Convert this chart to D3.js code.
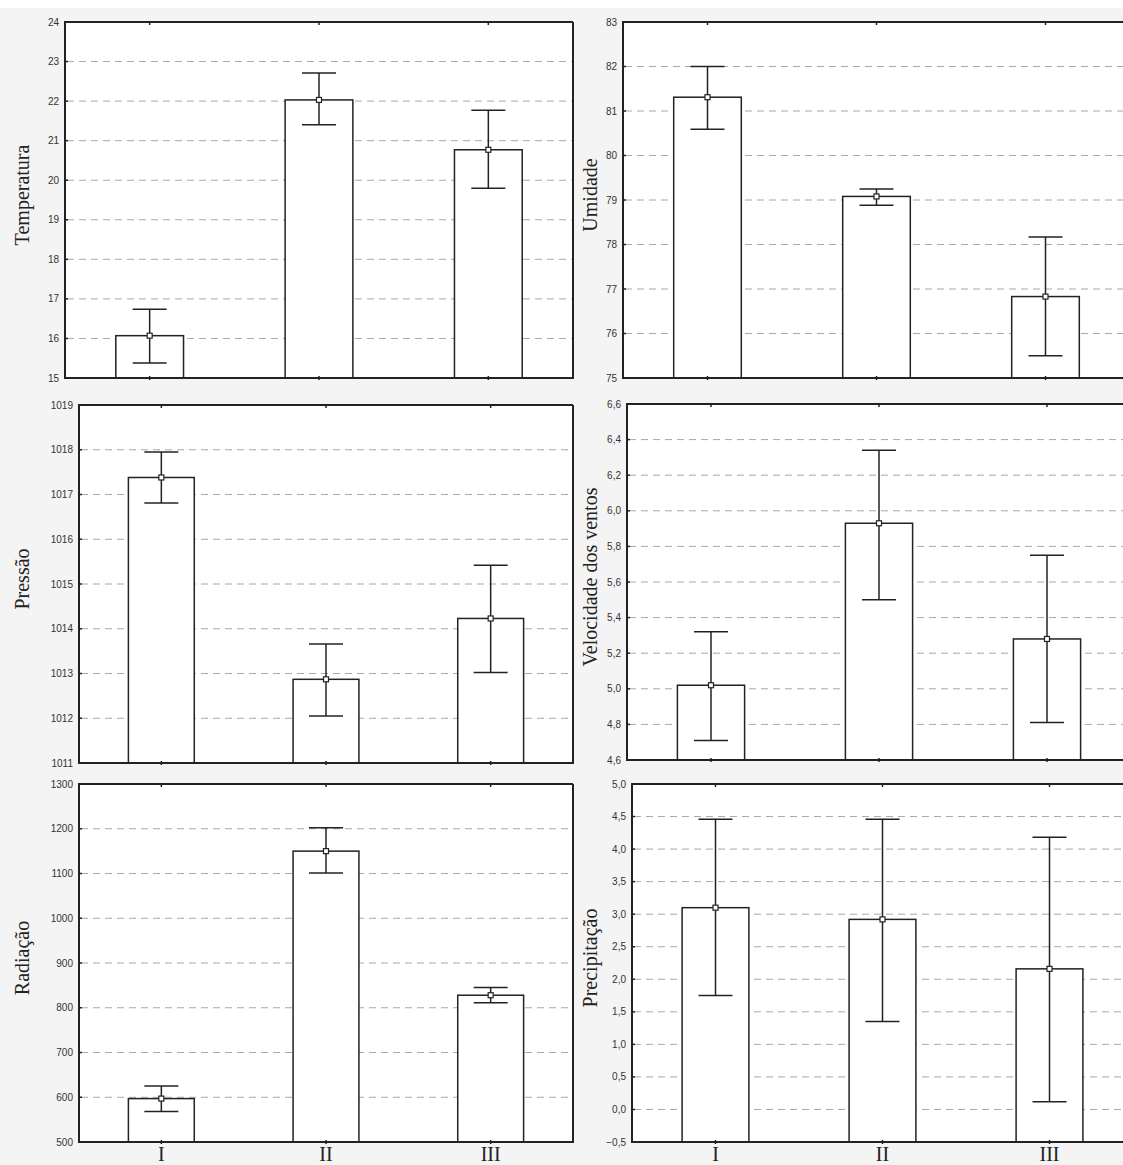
<!DOCTYPE html>
<html>
    <head>
        <meta charset="utf-8">
        <style>
            html, body {
                margin: 0px;
                padding: 0px;
                background-color: #f4f4f4;
            }

            svg {
                display: block;
            }

            .plot {
                fill: #fff;
            }

            .frame {
                fill: none;
                stroke: #222;
                stroke-width: 2px;
            }

            .grid line {
                stroke: #a8a8a8;
                stroke-dasharray: 7, 5;
            }

            .bar {
                fill: #fff;
                stroke: #222;
                stroke-width: 1.5px;
            }

            .err {
                stroke: #222;
                stroke-width: 1.5px;
            }

            .mean {
                fill: #fff;
                stroke: #222;
                stroke-width: 1.2px;
            }

            .tick-label {
                font-family: "Liberation Sans", Arial, sans-serif;
                font-size: 10px;
                fill: #333;
            }

            .ytitle {
                font-family: "Liberation Serif", "Times New Roman", serif;
                font-size: 20px;
                fill: #222;
            }

            .xlabel {
                font-family: "Liberation Serif", "Times New Roman", serif;
                font-size: 20px;
                fill: #222;
            }
        </style>
        <script src="https://cdnjs.cloudflare.com/ajax/libs/d3/7.8.5/d3.min.js"></script>
    </head>
    <body>
        <div id="main"></div>

        <script>
            var groups = ["I", "II", "III"];

            var tempMean = [16.07, 22.03, 20.77];
            var tempLow  = [15.38, 21.40, 19.80];
            var tempHigh = [16.74, 22.71, 21.77];
            var tempTicks = [15, 16, 17, 18, 19, 20, 21, 22, 23, 24];

            var umidMean = [81.31, 79.08, 76.83];
            var umidLow  = [80.59, 78.88, 75.50];
            var umidHigh = [82.00, 79.25, 78.17];
            var umidTicks = [75, 76, 77, 78, 79, 80, 81, 82, 83];

            var presMean = [1017.38, 1012.87, 1014.23];
            var presLow  = [1016.81, 1012.05, 1013.02];
            var presHigh = [1017.95, 1013.66, 1015.42];
            var presTicks = [1011, 1012, 1013, 1014, 1015, 1016, 1017, 1018, 1019];

            var ventMean = [5.02, 5.93, 5.28];
            var ventLow  = [4.71, 5.50, 4.81];
            var ventHigh = [5.32, 6.34, 5.75];
            var ventTicks = [4.6, 4.8, 5.0, 5.2, 5.4, 5.6, 5.8, 6.0, 6.2, 6.4, 6.6];

            var radMean = [597, 1150, 828];
            var radLow  = [568, 1101, 811];
            var radHigh = [625, 1202, 845];
            var radTicks = [500, 600, 700, 800, 900, 1000, 1100, 1200, 1300];

            var precMean = [3.10, 2.92, 2.16];
            var precLow  = [1.75, 1.35, 0.12];
            var precHigh = [4.46, 4.46, 4.18];
            var precTicks = [-0.5, 0, 0.5, 1.0, 1.5, 2.0, 2.5, 3.0, 3.5, 4.0, 4.5, 5.0];

            var width = 1123;
            var height = 1165;
            var capHalf = 17;

            var panels = [
                {title: "Temperatura", mean: tempMean, low: tempLow, high: tempHigh, ticks: tempTicks, fmt: "d",
                 left: 65, right: 573, top: 22, bottom: 378, titleX: 22, xlabels: false},
                {title: "Umidade", mean: umidMean, low: umidLow, high: umidHigh, ticks: umidTicks, fmt: "d",
                 left: 623, right: 1130, top: 22, bottom: 378, titleX: 590, xlabels: false},
                {title: "Pressão", mean: presMean, low: presLow, high: presHigh, ticks: presTicks, fmt: "d",
                 left: 79, right: 573, top: 405, bottom: 763, titleX: 22, xlabels: false},
                {title: "Velocidade dos ventos", mean: ventMean, low: ventLow, high: ventHigh, ticks: ventTicks, fmt: "comma",
                 left: 627, right: 1131, top: 404, bottom: 760, titleX: 590, xlabels: false},
                {title: "Radiação", mean: radMean, low: radLow, high: radHigh, ticks: radTicks, fmt: "d",
                 left: 79, right: 573, top: 784, bottom: 1142, titleX: 22, xlabels: true},
                {title: "Precipitação", mean: precMean, low: precLow, high: precHigh, ticks: precTicks, fmt: "comma",
                 left: 632, right: 1133, top: 784, bottom: 1142, titleX: 590, xlabels: true}
            ];

            function formatTick(fmt, v) {
                if (fmt == "comma") {
                    return d3.format(".1f")(v).replace(".", ",");
                }
                return d3.format("d")(v);
            }

            function drawPanel(svg, p) {
                var x = d3.scaleBand().domain(groups).range([p.left, p.right]).paddingInner(0.6).paddingOuter(0.3);
                var y = d3.scaleLinear().domain([p.ticks[0], p.ticks[p.ticks.length - 1]]).range([p.bottom, p.top]);
                var g = svg.append("g");

                g.append("rect")
                    .attr("class", "plot")
                    .attr("x", p.left)
                    .attr("y", p.top)
                    .attr("width", p.right - p.left)
                    .attr("height", p.bottom - p.top);

                // dashed grid, skipping the frame lines
                g.append("g")
                    .attr("class", "grid")
                    .selectAll("line")
                    .data(p.ticks.slice(1, -1))
                    .enter()
                    .append("line")
                    .attr("x1", p.left + 2)
                    .attr("x2", p.right)
                    .attr("y1", function(d) { return y(d); })
                    .attr("y2", function(d) { return y(d); });

                g.selectAll(".bar")
                    .data(groups)
                    .enter()
                    .append("rect")
                    .attr("class", "bar")
                    .attr("x", function(d) { return x(d); })
                    .attr("width", x.bandwidth())
                    .attr("y", function(d, i) { return y(p.mean[i]); })
                    .attr("height", function(d, i) { return p.bottom - y(p.mean[i]); });

                var cx = function(d) { return x(d) + x.bandwidth() / 2; };

                var err = g.selectAll(".errg")
                    .data(groups)
                    .enter()
                    .append("g");

                err.append("line")
                    .attr("class", "err")
                    .attr("x1", cx).attr("x2", cx)
                    .attr("y1", function(d, i) { return y(p.low[i]); })
                    .attr("y2", function(d, i) { return y(p.high[i]); });

                err.append("line")
                    .attr("class", "err")
                    .attr("x1", function(d) { return cx(d) - capHalf; })
                    .attr("x2", function(d) { return cx(d) + capHalf; })
                    .attr("y1", function(d, i) { return y(p.high[i]); })
                    .attr("y2", function(d, i) { return y(p.high[i]); });

                err.append("line")
                    .attr("class", "err")
                    .attr("x1", function(d) { return cx(d) - capHalf; })
                    .attr("x2", function(d) { return cx(d) + capHalf; })
                    .attr("y1", function(d, i) { return y(p.low[i]); })
                    .attr("y2", function(d, i) { return y(p.low[i]); });

                err.append("rect")
                    .attr("class", "mean")
                    .attr("x", function(d) { return cx(d) - 2.5; })
                    .attr("y", function(d, i) { return y(p.mean[i]) - 2.5; })
                    .attr("width", 5)
                    .attr("height", 5);

                // frame (right panels run off the page edge)
                var cut = p.right > width;
                var fr = cut ? width + 5 : p.right;
                g.append("path")
                    .attr("class", "frame")
                    .attr("d", "M" + fr + "," + p.top + "H" + p.left + "V" + p.bottom + "H" + fr + (cut ? "" : "V" + p.top));

                // small inner ticks on the y axis
                g.selectAll(".ytick")
                    .data(p.ticks)
                    .enter()
                    .append("line")
                    .attr("x1", p.left)
                    .attr("x2", p.left + 3)
                    .attr("y1", function(d) { return y(d); })
                    .attr("y2", function(d) { return y(d); })
                    .attr("stroke", "#222")
                    .attr("stroke-width", 1.5);

                // dot ticks top and bottom at group centres
                g.selectAll(".xtick")
                    .data(groups)
                    .enter()
                    .append("line")
                    .attr("x1", cx).attr("x2", cx)
                    .attr("y1", p.bottom - 2)
                    .attr("y2", p.bottom + 2)
                    .attr("stroke", "#222")
                    .attr("stroke-width", 1.5);

                g.selectAll(".xtick2")
                    .data(groups)
                    .enter()
                    .append("line")
                    .attr("x1", cx).attr("x2", cx)
                    .attr("y1", p.top - 1)
                    .attr("y2", p.top + 3)
                    .attr("stroke", "#222")
                    .attr("stroke-width", 1.5);

                g.selectAll(".tick-label")
                    .data(p.ticks)
                    .enter()
                    .append("text")
                    .attr("class", "tick-label")
                    .attr("x", p.left - 6)
                    .attr("y", function(d) { return y(d); })
                    .attr("dy", "0.35em")
                    .attr("text-anchor", "end")
                    .text(function(d) { return formatTick(p.fmt, d); });

                g.append("text")
                    .attr("class", "ytitle")
                    .attr("transform", "translate(" + p.titleX + "," + ((p.top + p.bottom) / 2 - 5) + ") rotate(-90)")
                    .attr("dy", "0.35em")
                    .attr("text-anchor", "middle")
                    .text(p.title);

                if (p.xlabels) {
                    g.selectAll(".xlabel")
                        .data(groups)
                        .enter()
                        .append("text")
                        .attr("class", "xlabel")
                        .attr("x", cx)
                        .attr("y", p.bottom + 19)
                        .attr("text-anchor", "middle")
                        .text(function(d) { return d; });
                }
            }

            function main() {
                var svg = d3.select("#main")
                            .append("svg")
                            .attr("width", width)
                            .attr("height", height);

                svg.append("rect")
                    .attr("width", width)
                    .attr("height", 8)
                    .attr("fill", "#fff");

                panels.forEach(function(p) { drawPanel(svg, p); });
            }

            main();
        </script>
    </body>
</html>
